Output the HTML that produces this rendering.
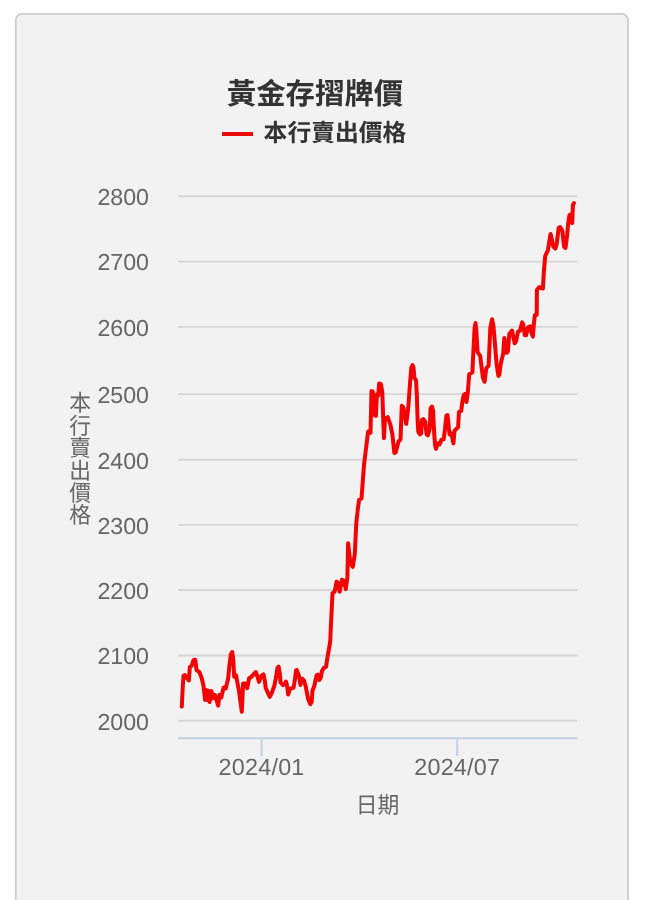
<!DOCTYPE html>
<html lang="zh-Hant">
<head>
<meta charset="utf-8">
<title>黃金存摺牌價</title>
<style>
html,body{margin:0;padding:0;background:#fff;}
body{width:667px;height:900px;overflow:hidden;position:relative;font-family:"Liberation Sans","Noto Sans CJK TC",sans-serif;}
svg{position:absolute;left:0;top:0;}
svg text{font-family:"Liberation Sans","Noto Sans CJK TC",sans-serif;text-rendering:geometricPrecision;}
.title{font-size:29.4px;font-weight:bold;fill:#333;}
.legend{font-size:23.8px;font-weight:bold;fill:#333;}
.tick text{font-size:23.2px;fill:#666;text-anchor:end;}
.xtick text{font-size:23.4px;letter-spacing:0.2px;fill:#666;text-anchor:middle;}
.atitle{font-size:21.8px;fill:#666;}
.ytitle{writing-mode:vertical-rl;text-orientation:upright;letter-spacing:-0.4px;}
.grid line{stroke:#d6d6d6;stroke-width:1.9;}
</style>
</head>
<body>
<svg width="667" height="900" viewBox="0 0 667 900">
<rect x="15.8" y="13.8" width="612.2" height="920" rx="6.2" fill="#f2f2f2" stroke="#cccccc" stroke-width="1.8"/>
<g class="grid">
<line x1="178" y1="720.8" x2="577.3" y2="720.8"/>
<line x1="178" y1="655.5" x2="577.3" y2="655.5"/>
<line x1="178" y1="590.0" x2="577.3" y2="590.0"/>
<line x1="178" y1="524.9" x2="577.3" y2="524.9"/>
<line x1="178" y1="459.7" x2="577.3" y2="459.7"/>
<line x1="178" y1="394.1" x2="577.3" y2="394.1"/>
<line x1="178" y1="326.9" x2="577.3" y2="326.9"/>
<line x1="178" y1="261.6" x2="577.3" y2="261.6"/>
<line x1="178" y1="196.2" x2="577.3" y2="196.2"/>
</g>
<line x1="178" y1="738.2" x2="577.3" y2="738.2" stroke="#c4d0e2" stroke-width="2"/>
<line x1="261.6" y1="738" x2="261.6" y2="756" stroke="#c4d0e2" stroke-width="2"/>
<line x1="457.2" y1="738" x2="457.2" y2="756" stroke="#c4d0e2" stroke-width="2"/>
<text class="title" x="315" y="104.4" text-anchor="middle">黃金存摺牌價</text>
<line x1="222" y1="134" x2="253" y2="134" stroke="#ea0909" stroke-width="4"/>
<text class="legend" x="263.6" y="140.6">本行賣出價格</text>
<g class="tick">
<text x="149.0" y="729.7">2000</text>
<text x="149.0" y="664.3">2100</text>
<text x="149.0" y="598.9">2200</text>
<text x="149.0" y="533.7">2300</text>
<text x="149.0" y="468.6">2400</text>
<text x="149.0" y="402.9">2500</text>
<text x="149.0" y="335.9">2600</text>
<text x="149.0" y="269.8">2700</text>
<text x="149.0" y="204.9">2800</text>
</g>
<g class="xtick">
<text x="261.6" y="774.8">2024/01</text>
<text x="457.2" y="774.8">2024/07</text>
</g>
<text class="atitle" transform="translate(377.6,812.8) scale(1,1.04)" text-anchor="middle">日期</text>
<text class="atitle ytitle" transform="translate(79.2,391.0) scale(1,1.05)">本行賣出價格</text>
<polyline fill="none" stroke="#f30303" stroke-width="4" stroke-linejoin="round" stroke-linecap="round" points="181.8,706.6 182.6,690.0 183.5,675.6 184.9,675.1 188.9,680.5 189.8,667.0 191.6,665.9 193.4,660.3 195.2,659.8 196.6,670.2 199.3,672.0 201.5,677.4 203.1,683.7 204.0,690.0 205.1,700.0 206.0,690.0 207.1,700.0 208.0,690.4 209.6,702.1 211.4,690.9 213.2,698.1 215.0,694.9 218.2,705.7 219.5,694.7 221.3,697.6 223.6,687.5 225.8,688.4 228.1,678.7 229.4,665.7 230.8,654.4 232.2,652.0 233.3,660.0 234.2,676.7 236.0,675.3 239.1,691.5 241.8,711.8 243.1,683.4 245.2,683.4 247.2,688.2 249.2,678.0 250.0,677.9 252.2,676.1 254.0,673.8 255.8,672.0 257.6,677.0 259.0,681.9 261.2,676.1 263.5,674.3 264.8,680.6 265.7,687.8 268.0,693.2 269.8,696.8 272.0,692.3 274.3,686.0 276.1,677.0 277.4,668.0 278.6,666.6 279.7,672.5 280.6,682.4 282.8,685.1 284.6,684.2 286.0,681.5 287.1,686.0 288.2,694.5 289.6,689.6 291.4,688.2 293.6,687.8 295.0,678.8 296.1,670.2 296.8,670.1 299.0,676.0 300.4,685.0 302.2,678.7 304.0,680.5 305.8,686.8 308.0,698.5 310.3,704.3 311.6,702.1 312.5,690.4 314.3,685.9 316.6,675.5 317.9,674.6 319.3,680.0 320.6,678.2 322.0,671.0 323.8,667.9 326.0,667.0 327.8,655.3 329.6,645.4 330.3,640.0 331.0,623.5 331.9,605.3 332.5,593.1 334.6,591.8 336.6,581.6 338.2,583.0 339.6,591.8 342.0,579.6 344.0,581.0 345.8,589.1 347.4,576.9 348.1,543.2 350.4,563.4 352.8,566.8 354.8,554.0 356.2,524.3 357.9,508.1 359.2,499.7 361.5,498.4 364.0,465.0 368.1,431.4 370.5,432.7 371.5,390.9 372.8,391.6 374.6,415.2 375.9,415.9 376.9,394.3 378.2,395.6 379.2,383.5 380.9,384.1 382.3,392.2 383.9,438.1 385.0,418.6 387.7,417.2 390.4,424.6 392.4,434.7 394.4,453.0 395.8,452.3 398.5,441.5 400.5,439.5 401.8,405.7 403.5,407.8 406.2,423.9 407.9,411.1 408.6,403.0 409.9,385.0 411.3,367.5 412.5,365.0 413.5,367.5 414.4,377.8 416.0,380.3 416.8,394.0 417.6,420.0 418.3,431.7 419.8,434.4 421.2,433.5 421.9,420.0 423.4,419.1 425.2,421.8 426.6,434.4 427.9,435.3 429.7,429.0 430.6,408.3 432.0,406.5 433.1,411.0 434.2,433.5 435.1,445.2 436.0,448.8 437.8,443.4 439.6,444.3 441.4,439.8 443.7,439.3 445.0,429.0 446.4,415.5 447.5,415.0 448.6,425.4 449.5,434.4 451.3,433.5 452.2,437.1 453.4,443.4 454.5,430.8 456.7,428.5 458.1,427.2 459.0,411.9 461.2,411.0 462.6,400.2 463.9,394.8 465.1,393.9 466.5,402.0 467.8,392.6 469.2,374.3 472.4,372.3 473.2,355.0 474.6,328.0 475.5,323.0 476.3,330.0 477.6,352.0 480.2,356.1 482.9,377.7 484.6,381.8 486.3,368.3 488.6,365.6 490.3,328.0 492.1,319.3 493.4,326.0 494.4,337.0 496.6,364.0 498.4,376.0 499.3,375.0 500.7,364.0 503.2,353.4 504.3,337.9 506.6,352.8 507.9,351.4 509.3,333.9 512.0,330.5 514.7,343.3 516.0,341.3 518.0,331.8 520.1,330.5 522.1,322.4 523.2,324.4 524.8,335.2 526.1,335.2 528.2,327.1 530.2,326.4 531.5,333.2 532.9,336.6 534.0,322.4 534.9,315.0 536.7,315.0 536.9,289.9 539.1,287.2 542.9,288.5 543.9,271.0 545.2,256.1 547.9,250.1 550.6,233.9 553.3,246.7 555.3,248.7 556.7,244.0 558.7,227.8 560.1,227.1 562.3,230.5 564.1,246.7 565.5,248.0 567.2,234.5 568.2,223.1 569.5,215.0 570.9,214.3 572.2,223.1 572.9,204.8 574.0,203.2"/>
</svg>
</body>
</html>
